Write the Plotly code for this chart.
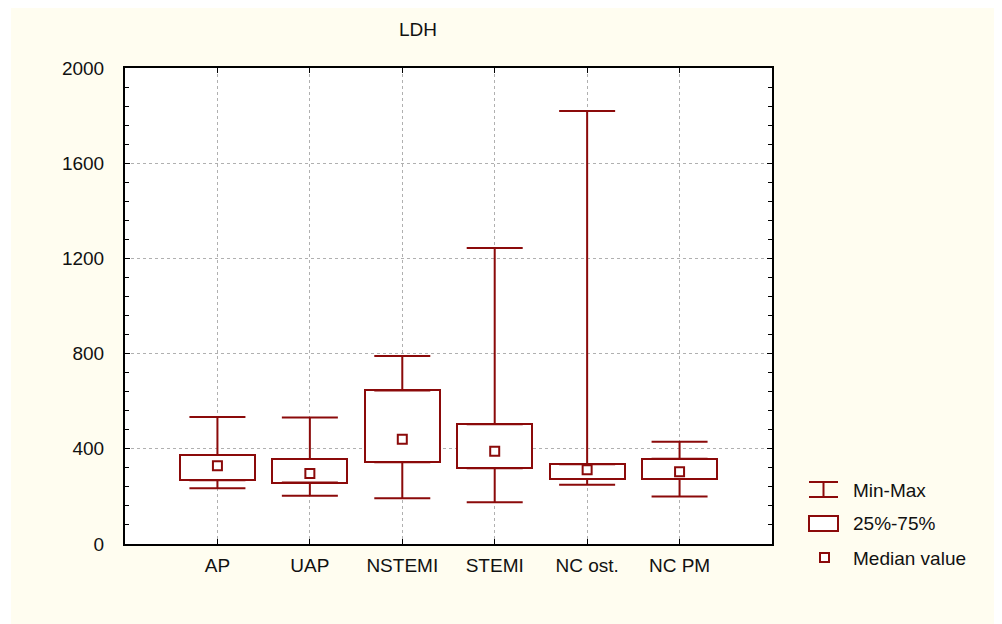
import plotly.graph_objects as go

categories = ["AP", "UAP", "NSTEMI", "STEMI", "NC ost.", "NC PM"]
min_vals = [234, 203, 192, 175, 249, 200]
q1_vals = [268, 258, 343, 318, 273, 273]
median_vals = [329, 296, 440, 390, 312, 304]
q3_vals = [374, 357, 645, 503, 335, 358]
max_vals = [534, 532, 790, 1244, 1819, 430]
y_ticks = [0, 400, 800, 1200, 1600, 2000]

RED = "#8B0A0A"
CREAM = "#FFFDF0"
FONT = "Liberation Sans, Arial, sans-serif"
FS = 19

xpos = list(range(1, len(categories) + 1))

fig = go.Figure()

# Boxes (25%-75%)
fig.add_trace(go.Bar(
    x=xpos, y=[q3 - q1 for q1, q3 in zip(q1_vals, q3_vals)], base=q1_vals,
    width=0.81, marker=dict(color="white", line=dict(color=RED, width=2)),
    showlegend=False, hoverinfo="skip"))

# Upper whiskers
fig.add_trace(go.Scatter(
    x=xpos, y=q3_vals, mode="markers", marker=dict(size=0.1, color=RED, opacity=0),
    error_y=dict(type="data", symmetric=False,
                 array=[mx - q3 for mx, q3 in zip(max_vals, q3_vals)],
                 arrayminus=[0] * len(xpos), color=RED, thickness=2, width=28),
    showlegend=False, hoverinfo="skip"))
# Lower whiskers
fig.add_trace(go.Scatter(
    x=xpos, y=q1_vals, mode="markers", marker=dict(size=0.1, color=RED, opacity=0),
    error_y=dict(type="data", symmetric=False,
                 array=[0] * len(xpos),
                 arrayminus=[q1 - mn for q1, mn in zip(q1_vals, min_vals)],
                 color=RED, thickness=2, width=28),
    showlegend=False, hoverinfo="skip"))

# Median markers
fig.add_trace(go.Scatter(
    x=xpos, y=median_vals, mode="markers",
    marker=dict(symbol="square", size=9, color="white", line=dict(color=RED, width=2)),
    showlegend=False, hoverinfo="skip"))

# page-pixel -> paper coordinate helpers (plot area spans 125..772 x 68..544 on the page)
def px2x(px):
    return (px - 125) / 647.0

def py2y(py):
    return (544 - py) / 476.0

# Background shapes: cream page, white plot area
shapes = [
    dict(type="rect", xref="paper", yref="paper", x0=px2x(11), x1=1.40, y0=-0.25, y1=py2y(4),
         fillcolor=CREAM, line=dict(width=0), layer="below"),
    dict(type="rect", xref="paper", yref="paper", x0=0, x1=1, y0=0, y1=1,
         fillcolor="white", line=dict(width=0), layer="below"),
]

# Custom legend
shapes += [
    dict(type="line", xref="paper", yref="paper", x0=px2x(809), x1=px2x(838), y0=py2y(482), y1=py2y(482),
         line=dict(color=RED, width=2)),
    dict(type="line", xref="paper", yref="paper", x0=px2x(809), x1=px2x(838), y0=py2y(497), y1=py2y(497),
         line=dict(color=RED, width=2)),
    dict(type="line", xref="paper", yref="paper", x0=px2x(823.5), x1=px2x(823.5), y0=py2y(482), y1=py2y(497),
         line=dict(color=RED, width=2)),
    dict(type="rect", xref="paper", yref="paper", x0=px2x(809), x1=px2x(838), y0=py2y(516), y1=py2y(531),
         fillcolor="white", line=dict(color=RED, width=2)),
    dict(type="rect", xref="paper", yref="paper", x0=px2x(820), x1=px2x(829), y0=py2y(553), y1=py2y(562),
         fillcolor="white", line=dict(color=RED, width=2)),
]

annotations = [
    dict(text="LDH", xref="paper", yref="paper", x=px2x(418), y=py2y(29), showarrow=False,
         font=dict(size=FS, color="#111111", family=FONT), xanchor="center", yanchor="middle"),
]
for label, py in [("Min-Max", 490), ("25%-75%", 523), ("Median value", 558)]:
    annotations.append(dict(text=label, xref="paper", yref="paper", x=px2x(851), y=py2y(py),
                            showarrow=False, xanchor="left", yanchor="middle",
                            font=dict(size=FS, color="#111111", family=FONT)))

fig.update_layout(
    width=994, height=616,
    margin=dict(l=117, r=230, t=60, b=80),
    paper_bgcolor="white", plot_bgcolor="white",
    font=dict(family=FONT, size=FS, color="#111111"),
    shapes=shapes, annotations=annotations,
    showlegend=False, bargap=0,
)

fig.update_xaxes(
    range=[0, 7], tickvals=xpos, ticktext=categories,
    showline=True, linecolor="black", linewidth=2, mirror="ticks",
    ticks="inside", ticklen=5, tickcolor="black", tickwidth=1,
    showgrid=True, gridcolor="#b0b0b0", griddash="dot", gridwidth=1,
    zeroline=False, tickfont=dict(size=FS, family=FONT, color="#111111"),
    ticklabelstandoff=3,
)
fig.update_yaxes(
    range=[0, 2000], tickvals=y_ticks,
    showline=True, linecolor="black", linewidth=2, mirror="ticks",
    ticks="inside", ticklen=5, tickcolor="black", tickwidth=1,
    minor=dict(dtick=80, ticks="inside", ticklen=4, tickcolor="black", showgrid=False),
    showgrid=True, gridcolor="#b0b0b0", griddash="dot", gridwidth=1,
    zeroline=False, tickfont=dict(size=FS, family=FONT, color="#111111"),
    ticklabelstandoff=15,
)

fig.write_html("out.html")
